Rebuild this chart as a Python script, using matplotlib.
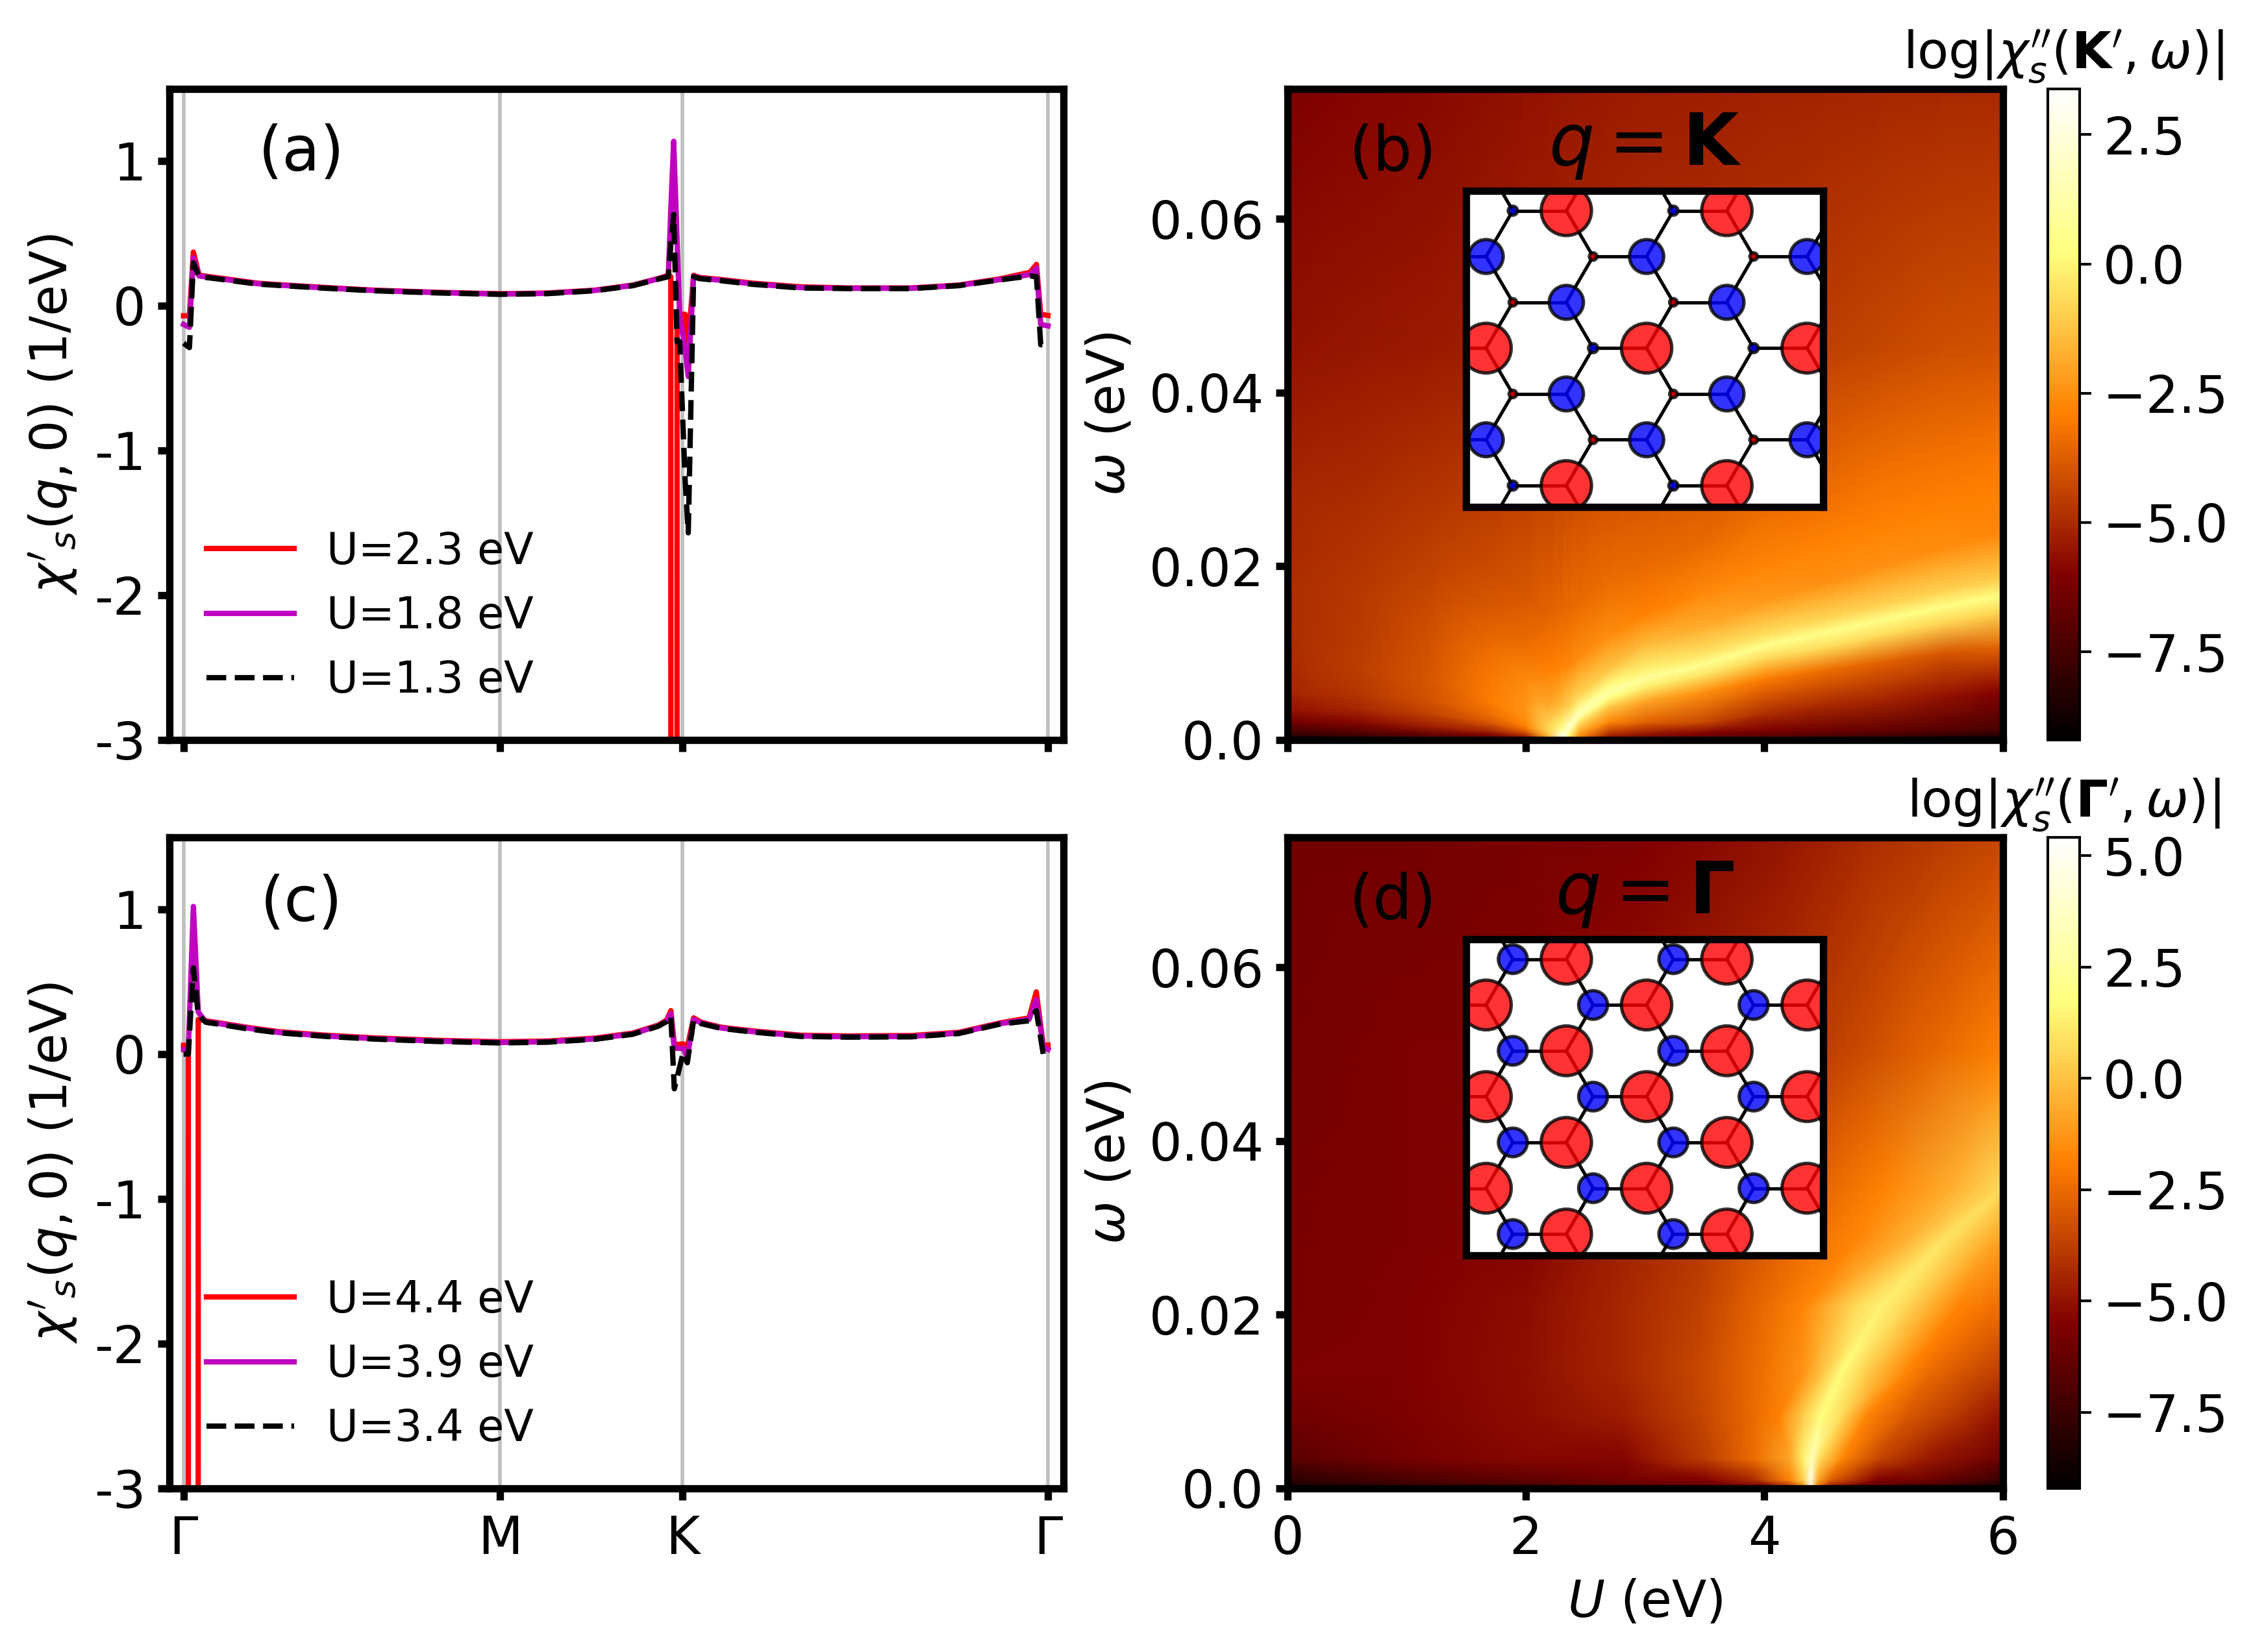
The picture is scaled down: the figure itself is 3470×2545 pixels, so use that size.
import numpy as np
from matplotlib import pyplot as plt
from matplotlib.patches import Circle
from matplotlib.ticker import MultipleLocator

DPI = 370
W, H = 3470, 2545

# high symmetry path, Gamma-M-K-Gamma
path_x = [0.0, 1.0, 1.577, 2.732]
path_labels = ['Γ', 'M', 'K', 'Γ']
yticks_line = [1, 0, -1, -2, -3]
yticklabels_line = ['1', '0', '-1', '-2', '-3']

# panel (a), static susceptibility
xa = [0.0, 0.0185, 0.031, 0.049, 0.1, 0.234, 0.3, 0.45, 0.6, 0.8, 1.0, 1.15, 1.3, 1.42, 1.5,
      1.532, 1.540, 1.549, 1.5596, 1.568, 1.585, 1.595, 1.612, 1.63, 1.7, 1.8, 1.95, 2.1, 2.3,
      2.45, 2.58, 2.675, 2.6955, 2.709, 2.732]
chi_a_red = [-0.07, -0.07, 0.37, 0.21, 0.195, 0.155, 0.145, 0.125, 0.107, 0.092, 0.082, 0.087, 0.107,
             0.142, 0.187, 0.21, 0.2, -300.0, -0.06, -0.06, -0.06, -0.25, 0.21, 0.195, 0.18, 0.155, 0.13,
             0.122, 0.122, 0.142, 0.185, 0.23, 0.285, -0.06, -0.068]
chi_a_mag = [-0.13, -0.15, 0.33, 0.205, 0.19, 0.152, 0.142, 0.122, 0.105, 0.09, 0.08, 0.085, 0.105,
             0.14, 0.185, 0.205, 0.67, 1.136, 0.46, -0.07, -0.3, -0.49, 0.205, 0.19, 0.175, 0.15, 0.125,
             0.12, 0.12, 0.14, 0.18, 0.215, 0.26, -0.13, -0.14]
chi_a_blk = [-0.26, -0.29, 0.295, 0.2, 0.187, 0.149, 0.14, 0.12, 0.103, 0.088, 0.078, 0.083, 0.103,
             0.138, 0.183, 0.2, 0.42, 0.63, -0.25, -0.25, -1.2, -1.57, 0.2, 0.187, 0.172, 0.147, 0.122,
             0.118, 0.118, 0.138, 0.178, 0.205, 0.2, -0.27, -0.27]

# panel (c)
xc = [0.0, 0.015, 0.031, 0.0464, 0.07, 0.1, 0.2, 0.3, 0.45, 0.6, 0.8, 1.0, 1.15, 1.3, 1.42, 1.5,
      1.527, 1.540, 1.551, 1.579, 1.592, 1.612, 1.636, 1.7, 1.8, 1.95, 2.1, 2.3, 2.45, 2.58,
      2.672, 2.695, 2.717, 2.732]
chi_c_red = [0.06, 0.06, -300.0, 0.24, 0.23, 0.22, 0.185, 0.155, 0.13, 0.112, 0.095, 0.085, 0.09, 0.11,
             0.145, 0.2, 0.235, 0.30, 0.065, 0.07, 0.047, 0.25, 0.22, 0.185, 0.16, 0.13, 0.125, 0.128, 0.15, 0.215,
             0.25, 0.43, 0.06, 0.062]
chi_c_mag = [0.03, 0.03, 1.02, 0.29, 0.225, 0.215, 0.18, 0.15, 0.125, 0.107, 0.09, 0.08, 0.085, 0.105,
             0.14, 0.195, 0.228, 0.28, 0.04, 0.04, -0.02, 0.24, 0.215, 0.18, 0.155, 0.125, 0.12, 0.122, 0.145, 0.21,
             0.24, 0.376, 0.05, 0.032]
chi_c_blk = [0.0, 0.0, 0.595, 0.27, 0.22, 0.21, 0.175, 0.147, 0.122, 0.104, 0.087, 0.077, 0.082, 0.102,
             0.137, 0.192, 0.225, 0.264, -0.24, 0.01, -0.06, 0.235, 0.21, 0.177, 0.152, 0.122, 0.117, 0.119, 0.142, 0.207,
             0.23, 0.30, 0.0, 0.0]

# panel (b), log|chi''| read on a mesh that follows the bright ridge, one list per U
u_k = [0.0, 0.6, 1.2, 1.7, 2.0, 2.2, 2.3, 2.36, 2.45, 2.7, 3.0, 3.5, 4.0, 4.5, 5.0, 5.5, 6.0]
omega_k = [
    [0, .0007, .002, .0035, .0055, .008, .012, .018, .022, .027, .045, .075],
    [0, .0007, .002, .0035, .0055, .008, .012, .018, .022, .027, .045, .075],
    [0, .0006, .0015, .003, .0045, .007, .011, .016, .02, .025, .045, .075],
    [0, .0005, .001, .002, .003, .0045, .007, .011, .015, .02, .045, .075],
    [0, .0003, .0006, .001, .0015, .0025, .004, .007, .0105, .016, .045, .075],
    [0, .0002, .0003, .0005, .0008, .0012, .002, .004, .008, .015, .045, .075],
    [0, .0001, .0002, .0004, .0007, .0012, .002, .004, .0085, .015, .045, .075],
    [0, .0002, .0005, .001, .0013, .0015, .0018, .0035, .0085, .015, .045, .075],
    [0, .0004, .001, .002, .0026, .003, .0035, .005, .0095, .016, .045, .075],
    [0, .0007, .002, .0038, .0048, .0055, .0062, .008, .012, .018, .045, .075],
    [0, .0007, .002, .0045, .006, .007, .008, .011, .0145, .02, .045, .075],
    [0, .0007, .002, .0055, .0075, .0087, .0099, .013, .017, .023, .045, .075],
    [0, .001, .003, .007, .0093, .0108, .0122, .016, .02, .026, .045, .075],
    [0, .001, .004, .008, .0106, .0123, .0138, .018, .0225, .028, .045, .075],
    [0, .001, .0045, .009, .012, .0138, .0155, .02, .0245, .03, .045, .075],
    [0, .0012, .005, .01, .0134, .0153, .0172, .022, .0265, .032, .045, .075],
    [0, .0012, .0055, .0105, .0146, .0166, .0186, .024, .0285, .034, .045, .075],
]
chi_k = [
    [-8.6, -7.8, -6.4, -5.6, -5.15, -5.0, -4.95, -4.95, -5.0, -5.05, -5.6, -6.1],
    [-8.3, -7.3, -5.9, -5.1, -4.7, -4.55, -4.6, -4.7, -4.8, -4.95, -5.5, -5.95],
    [-7.4, -6.7, -5.3, -4.4, -4.0, -3.9, -4.0, -4.25, -4.45, -4.65, -5.4, -5.85],
    [-6.8, -6.2, -5.1, -3.8, -3.3, -3.0, -3.1, -3.4, -3.85, -4.2, -5.3, -5.7],
    [-6.2, -5.5, -4.6, -3.6, -2.9, -2.5, -2.4, -2.7, -3.3, -3.85, -5.2, -5.6],
    [-3.5, -2.4, -1.8, -1.2, -0.8, -0.7, -0.9, -1.9, -2.9, -3.6, -5.15, -5.55],
    [2.4, 3.0, 3.2, 3.0, 2.0, 0.6, -0.2, -1.5, -2.8, -3.5, -5.1, -5.5],
    [-1.5, -0.6, 0.3, 1.3, 1.9, 2.2, 1.6, -0.7, -2.7, -3.4, -5.1, -5.5],
    [-3.6, -2.6, -1.8, -0.4, 0.9, 1.6, 0.9, -0.7, -2.6, -3.4, -5.05, -5.45],
    [-6.0, -4.8, -2.8, -1.1, 0.3, 1.1, 0.3, -1.1, -2.6, -3.35, -5.0, -5.4],
    [-6.4, -5.5, -3.6, -1.9, -0.2, 0.9, -0.1, -1.5, -2.9, -3.4, -4.9, -5.35],
    [-7.0, -6.1, -4.3, -2.5, -0.4, 0.6, -0.4, -1.8, -2.7, -3.45, -4.8, -5.3],
    [-7.4, -6.2, -4.9, -3.0, -0.7, 0.5, -0.6, -2.3, -2.8, -3.3, -4.65, -5.2],
    [-7.8, -6.5, -5.0, -3.3, -0.6, 0.45, -0.7, -2.5, -2.85, -3.3, -4.5, -5.15],
    [-8.0, -6.8, -5.2, -3.6, -0.7, 0.4, -0.8, -2.5, -2.85, -3.2, -4.3, -5.1],
    [-8.4, -7.0, -5.6, -3.9, -0.8, 0.35, -0.9, -2.6, -2.85, -3.2, -4.1, -5.05],
    [-8.8, -7.4, -6.0, -3.7, -0.9, 0.3, -1.0, -2.75, -2.9, -3.2, -4.0, -5.0],
]

# panel (d), the ridge is steep here so the mesh has one list per omega
omega_g = [0, .0009, .0034, .0084, .0134, .0208, .0283, .0345, .05, .075]
u_g = [
    [0, 1, 2, 2.8, 3.5, 4.05, 4.2, 4.33, 4.39, 4.44, 4.55, 4.8, 5.3, 6],
    [0, 1, 2, 2.8, 3.5, 3.9, 4.22, 4.33, 4.39, 4.45, 4.55, 4.95, 5.4, 6],
    [0, 1, 2, 2.8, 3.5, 3.9, 4.22, 4.33, 4.40, 4.46, 4.65, 4.97, 5.4, 6],
    [0, 1, 2, 2.8, 3.5, 3.9, 4.12, 4.33, 4.48, 4.65, 4.86, 5.2, 5.62, 6],
    [0, 1, 2, 2.8, 3.5, 4.0, 4.33, 4.5, 4.65, 4.86, 5.2, 5.4, 5.62, 6],
    [0, 1, 2, 2.8, 3.46, 3.9, 4.33, 4.76, 4.97, 5.19, 5.62, 5.8, 5.9, 6],
    [0, 1, 2, 2.8, 3.46, 4.33, 4.76, 5.19, 5.49, 5.62, 5.85, 5.92, 5.96, 6],
    [0, 1, 2, 2.8, 3.5, 4.4, 5.0, 5.6, 6, 6, 6, 6, 6, 6],
    [0, 1, 2, 2.8, 3.5, 4.2, 4.8, 5.4, 6, 6, 6, 6, 6, 6],
    [0, 1, 2, 3.0, 3.6, 4.2, 4.8, 5.4, 6, 6, 6, 6, 6, 6],
]
chi_g = [
    [-8.5, -7.8, -7.2, -6.8, -6.5, -6.0, -5.0, -2.0, 5.0, -2.0, -5.4, -6.5, -7.5, -8.7],
    [-8.0, -7.1, -6.5, -5.9, -5.5, -4.45, -1.7, 0.4, 4.8, -0.8, -2.8, -5.6, -6.1, -7.6],
    [-6.6, -5.8, -5.35, -5.4, -3.8, -2.5, -0.7, 1.4, 3.4, 0.9, -1.7, -3.6, -4.9, -6.1],
    [-6.0, -5.6, -5.2, -4.7, -3.5, -2.5, -1.9, 0.3, 1.8, 0.7, -1.7, -3.0, -4.0, -5.0],
    [-5.6, -5.5, -5.1, -4.45, -3.4, -2.3, -1.3, 0.2, 1.7, 0.3, -1.8, -2.5, -3.0, -3.8],
    [-5.7, -5.5, -5.2, -4.45, -3.7, -2.7, -1.7, 0.7, 1.4, 0.6, -1.8, -2.1, -2.3, -2.4],
    [-5.7, -5.6, -5.4, -4.6, -3.9, -2.3, -1.7, -0.4, 1.0, 0.5, -0.5, -0.8, -0.95, -1.0],
    [-5.7, -5.6, -5.4, -4.7, -4.0, -2.8, -1.8, -0.5, 0.7, 0.7, 0.7, 0.7, 0.7, 0.7],
    [-5.8, -5.6, -5.5, -5.1, -4.6, -4.1, -3.4, -2.6, -1.8, -1.8, -1.8, -1.8, -1.8, -1.8],
    [-5.9, -5.85, -5.7, -5.5, -5.25, -4.9, -4.3, -3.9, -3.5, -3.5, -3.5, -3.5, -3.5, -3.5],
]

# insets, spin amplitude by lattice row, the sign sets the colour
spin_k_a = [-0.085, 0.07, 0.07, -0.085, 0.07, 0.07, -0.085]
spin_k_b = [0.47, -0.32, -0.32, 0.47, -0.32, -0.32, 0.47]
spin_g_a = [-0.27, -0.27, -0.27, -0.27, -0.27, -0.27, -0.27]
spin_g_b = [0.47, 0.47, 0.47, 0.47, 0.47, 0.47, 0.47]


def px_axes(fig, x0, x1, y0, y1):
    return fig.add_axes([x0 / W, 1 - y1 / H, (x1 - x0) / W, (y1 - y0) / H])


def style_spines(ax, lw=2.2):
    for s in ax.spines.values():
        s.set_linewidth(lw)
    ax.tick_params(width=lw, length=3.5, labelsize=15.5)
    ax.tick_params(axis='x', pad=4.4)


def plot_line(ax, x, red, mag, blk, labels, tag, show_x, tag_x, tag_y):
    for v in path_x:
        ax.axvline(v, color='gray', alpha=0.5, lw=1.1, zorder=1)
    ax.plot(x, red, 'r', lw=1.6, label=labels[0], zorder=2)
    ax.plot(x, mag, 'm', lw=1.6, label=labels[1], zorder=2)
    ax.plot(x, blk, 'k--', lw=1.6, label=labels[2], zorder=2)
    ax.set_xlim(-0.0456, 2.780)
    ax.set_ylim(-3, 1.5)
    ax.set_xticks(path_x)
    ax.set_xticklabels(path_labels if show_x else [])
    ax.set_yticks(yticks_line)
    ax.set_yticklabels(yticklabels_line)
    ax.set_ylabel(r"$\chi'{}_s(q,0)$ (1/eV)", fontsize=15.1, labelpad=4.5)
    ax.legend(loc='lower left', bbox_to_anchor=(-0.002, -0.002), frameon=False, fontsize=13.0,
              handlelength=2.03, handletextpad=0.74)
    ax.text(tag_x, tag_y, tag, transform=ax.transAxes, fontsize=18.6, ha='center', va='center')
    style_spines(ax)


def plot_map(fig, ax, cax, X, Y, Z, vmin, vmax, tag, head, bar_title, show_x):
    mesh = ax.pcolormesh(X, Y, Z, cmap='afmhot', vmin=vmin, vmax=vmax, shading='gouraud')
    ax.set_xlim(0, 6)
    ax.set_ylim(0, 0.075)
    ax.set_xticks([0, 2, 4, 6])
    ax.set_xticklabels(['0', '2', '4', '6'] if show_x else [])
    ax.set_yticks([0, 0.02, 0.04, 0.06])
    ax.set_yticklabels(['0.0', '0.02', '0.04', '0.06'])
    ax.set_ylabel(r'$\omega$ (eV)', fontsize=15.5)
    if show_x:
        ax.set_xlabel(r'$U$ (eV)', fontsize=15.2, labelpad=3.8)
    ax.text(0.148, 0.9, tag, transform=ax.transAxes, fontsize=18.6, ha='center', va='center')
    ax.text(0.5, 0.912, head, transform=ax.transAxes, fontsize=21.6, ha='center', va='center')
    style_spines(ax)
    cbar = fig.colorbar(mesh, cax=cax)
    cbar.ax.yaxis.set_major_locator(MultipleLocator(2.5))
    cbar.ax.tick_params(labelsize=15.5)
    cbar.ax.set_title(bar_title, fontsize=15.3, pad=5.7)


def plot_lattice(ax, spin_a, spin_b):
    dy = np.sqrt(3) / 2
    # bonds leave every A site to the right, upper left and lower left
    for row in range(-2, 9):
        shift = 0.0 if row % 2 == 0 else 1.5
        for col in range(-2, 5):
            ax_x = shift + 3 * col
            y = -row * dy
            ax.plot([ax_x, ax_x + 1], [y, y], 'k', lw=1.0, zorder=1)
            ax.plot([ax_x, ax_x - 0.5], [y, y + dy], 'k', lw=1.0, zorder=1)
            ax.plot([ax_x, ax_x - 0.5], [y, y - dy], 'k', lw=1.0, zorder=1)
    for row in range(7):
        y = -row * dy
        if row % 2 == 0:
            a_sites, b_sites = [0, 3], [1, 4]
        else:
            a_sites, b_sites = [1.5, 4.5], [-0.5, 2.5, 5.5]
        for sites, amp in ((a_sites, spin_a[row]), (b_sites, spin_b[row])):
            for x in sites:
                ax.add_patch(Circle((x, y), abs(amp), fc='r' if amp > 0 else 'b', ec='k',
                                    lw=1.0, alpha=0.8, zorder=2))
    ax.set_xlim(-0.88, 5.80)
    ax.set_ylim(-5.6, 0.38)
    ax.set_xticks([])
    ax.set_yticks([])
    for s in ax.spines.values():
        s.set_linewidth(2.2)


fig = plt.figure(figsize=(W / DPI, H / DPI), dpi=DPI)

ax_a = px_axes(fig, 260.5, 1637.5, 136.5, 1139.5)
ax_c = px_axes(fig, 260.5, 1637.5, 1289.5, 2292.5)
ax_b = px_axes(fig, 1982.7, 3084.5, 136.5, 1139.5)
ax_d = px_axes(fig, 1982.7, 3084.5, 1289.5, 2292.5)
cax_b = px_axes(fig, 3153.5, 3203, 136.5, 1139.5)
cax_d = px_axes(fig, 3153.5, 3203, 1289.5, 2292.5)

plot_line(ax_a, xa, chi_a_red, chi_a_mag, chi_a_blk,
          ['U=2.3 eV', 'U=1.8 eV', 'U=1.3 eV'], '(a)', False, 0.148, 0.9)
plot_line(ax_c, xc, chi_c_red, chi_c_mag, chi_c_blk,
          ['U=4.4 eV', 'U=3.9 eV', 'U=3.4 eV'], '(c)', True, 0.148, 0.897)

Y_k = np.array(omega_k).T
X_k = np.tile(np.array(u_k), (Y_k.shape[0], 1))
plot_map(fig, ax_b, cax_b, X_k, Y_k, np.array(chi_k).T, -9.2, 3.39, '(b)',
         r'$q=\mathbf{K}$', r"$\log|\chi_s''(\mathbf{K}',\omega)|$", False)

X_g = np.array(u_g)
Y_g = np.tile(np.array(omega_g), (X_g.shape[1], 1)).T
plot_map(fig, ax_d, cax_d, X_g, Y_g, np.array(chi_g), -9.2, 5.42, '(d)',
         r'$q=\mathbf{\Gamma}$', r"$\log|\chi_s''(\mathbf{\Gamma}',\omega)|$", True)

ins_b = px_axes(fig, 2257.5, 2808, 293.6, 781)
ins_d = px_axes(fig, 2257.5, 2808, 1446.7, 1934)
plot_lattice(ins_b, spin_k_a, spin_k_b)
plot_lattice(ins_d, spin_g_a, spin_g_b)

fig.savefig('out.png', dpi=DPI)
